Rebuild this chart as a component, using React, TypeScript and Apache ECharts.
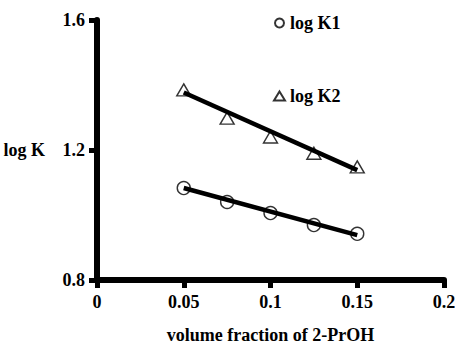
import React, { useEffect, useRef } from "react";
import * as echarts from "echarts";

const xValues = [0.05, 0.075, 0.1, 0.125, 0.15];
const logK1 = [1.083, 1.04, 1.006, 0.969, 0.942];
const logK2 = [1.385, 1.298, 1.24, 1.19, 1.148];
const fitX = [0.05, 0.15];
const fitK1 = [1.083, 0.938];
const fitK2 = [1.377, 1.138];
const xTicks = [0, 0.05, 0.1, 0.15, 0.2];
const yTicks = [0.8, 1.2, 1.6];

const FONT = "Liberation Serif";

export default function App() {
  const ref = useRef<HTMLDivElement>(null);
  useEffect(() => {
    const chart = echarts.init(ref.current!, null, { renderer: "svg" });
    chart.setOption({
      animation: false,
      backgroundColor: "#fff",
      grid: { left: 97, right: 11, top: 20, bottom: 66, containLabel: false, outerBoundsMode: "none" },
      legend: {
        orient: "vertical",
        left: 268,
        top: 9,
        itemGap: 55,
        itemWidth: 11,
        itemHeight: 9,
        textStyle: { fontFamily: FONT, fontWeight: "bold", fontSize: 18, color: "#000" },
        data: [
          { name: "log K1", icon: "circle" },
          { name: "log K2", icon: "triangle" },
        ],
      },
      xAxis: {
        type: "value",
        min: 0,
        max: 0.2,
        interval: 0.05,
        name: "volume fraction of 2-PrOH",
        nameLocation: "middle",
        nameGap: 46,
        nameTextStyle: { fontFamily: FONT, fontWeight: "bold", fontSize: 18, color: "#000" },
        axisLine: { show: true, onZero: false, lineStyle: { color: "#000", width: 6 } },
        axisTick: { show: true, inside: false, length: 8, lineStyle: { color: "#000", width: 5 } },
        splitLine: { show: false },
        axisLabel: {
          fontFamily: FONT,
          fontWeight: "bold",
          fontSize: 18,
          color: "#000",
          margin: 13,
          formatter: (v: number) => (xTicks.some((t) => Math.abs(t - v) < 1e-9) ? String(+v.toFixed(2)) : ""),
        },
      },
      yAxis: {
        type: "value",
        min: 0.8,
        max: 1.6,
        interval: 0.4,
        name: "log K",
        nameLocation: "middle",
        nameRotate: 0,
        nameGap: 52,
        nameTextStyle: { fontFamily: FONT, fontWeight: "bold", fontSize: 18, color: "#000" },
        axisLine: { show: true, onZero: false, lineStyle: { color: "#000", width: 6 } },
        axisTick: { show: true, inside: false, length: 8, lineStyle: { color: "#000", width: 5 } },
        splitLine: { show: false },
        axisLabel: {
          fontFamily: FONT,
          fontWeight: "bold",
          fontSize: 18,
          color: "#000",
          margin: 12,
          formatter: (v: number) => (yTicks.some((t) => Math.abs(t - v) < 1e-9) ? v.toFixed(1) : ""),
        },
      },
      series: [
        {
          name: "fit K1",
          type: "line",
          data: fitX.map((x, i) => [x, fitK1[i]]),
          symbol: "none",
          lineStyle: { color: "#000", width: 4.5 },
          z: 2,
        },
        {
          name: "fit K2",
          type: "line",
          data: fitX.map((x, i) => [x, fitK2[i]]),
          symbol: "none",
          lineStyle: { color: "#000", width: 4.5 },
          z: 2,
        },
        {
          name: "log K1",
          type: "scatter",
          symbol: "circle",
          symbolSize: 13,
          data: xValues.map((x, i) => [x, logK1[i]]),
          itemStyle: { color: "rgba(255,255,255,0)", borderColor: "#000", borderWidth: 1.4 },
          z: 3,
        },
        {
          name: "log K2",
          type: "scatter",
          symbol: "triangle",
          symbolSize: [14, 12],
          data: xValues.map((x, i) => [x, logK2[i]]),
          itemStyle: { color: "rgba(255,255,255,0)", borderColor: "#000", borderWidth: 1.4 },
          z: 3,
        },
      ],
    });
    return () => chart.dispose();
  }, []);
  return <div ref={ref} style={{ width: 455, height: 346, position: "absolute", left: 0, top: 0 }} />;
}
